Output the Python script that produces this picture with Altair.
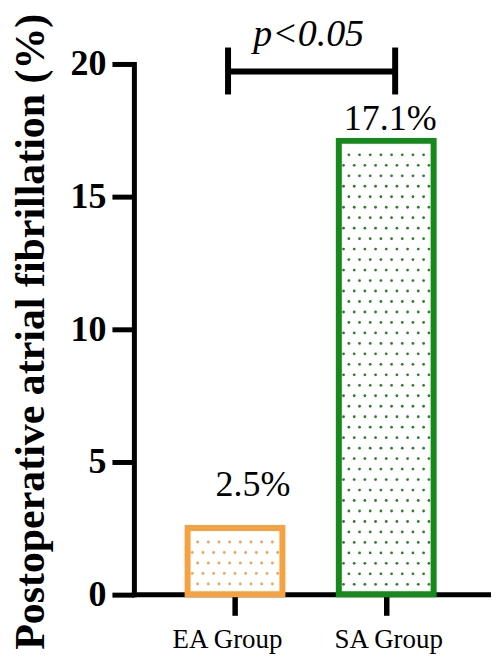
import altair as alt
import pandas as pd

# ---- data ----
groups = ["EA Group", "SA Group"]
positions = [1, 2]
values = [2.5, 17.1]
labels = ["2.5%", "17.1%"]
stroke_colors = ["#F7A241", "#15891A"]
dot_colors = ["#F2A24E", "#2E7F2E"]

bracket_x = [0.954, 2.059]
bracket_y = [19.72]
bracket_ends = [18.85, 20.62]
p_text = ["p<0.05"]
p_y = [20.69]

y_ticks = [0, 5, 10, 15, 20]

FONT = "Liberation Serif"
HALF = 0.3135          # half bar width in x units
DX = 0.0706            # dot spacing (x units)
DY = 0.395             # dot spacing (y units)

bars = pd.DataFrame({"group": groups, "pos": positions, "value": values, "label": labels})
bars["x0"] = bars["pos"] - HALF
bars["x1"] = bars["pos"] + HALF

# decorative dot pattern inside each bar
rows = []
for g, p, v in zip(groups, positions, values):
    yy = v - 0.527
    r = 0
    while yy > 0.3:
        ks = [k - 3.5 for k in range(8)] if r % 2 == 0 else [k - 4 for k in range(9)]
        for k in ks:
            rows.append({"group": g, "x": p + k * DX, "y": yy})
        yy -= DY
        r += 1
dots = pd.DataFrame(rows)

br_h = pd.DataFrame({"x": [bracket_x[0]], "x2": [bracket_x[1]], "y": bracket_y})
br_v = pd.DataFrame({"x": bracket_x, "y": [bracket_ends[0]] * 2, "y2": [bracket_ends[1]] * 2})
ptxt = pd.DataFrame({"x": [(bracket_x[0] + bracket_x[1]) / 2], "y": p_y, "t": p_text})

xscale = alt.Scale(domain=[0.3314, 2.673], nice=False, zero=False)
yscale = alt.Scale(domain=[0, 20], nice=False, zero=True)

label_expr = "datum.value == 1 ? '%s' : '%s'" % (groups[0], groups[1])

x_axis = alt.Axis(
    values=positions, labelExpr=label_expr, title=None,
    tickSize=21, tickWidth=5.5, domainWidth=5, domainCap="square",
    labelFontSize=27, labelFont=FONT, labelFontWeight="normal",
    labelPadding=11, labelColor="black", grid=False,
    labelOffset={"condition": {"test": "datum.value == 1", "value": -8}, "value": 2},
)
y_axis = alt.Axis(
    values=y_ticks, title="Postoperative atrial fibrillation (%)",
    tickSize=22, tickWidth=5, domainWidth=5, domainCap="square",
    labelFontSize=36, labelFont=FONT, labelFontWeight="bold", labelPadding=6,
    labelColor="black", grid=False,
    titleFont=FONT, titleFontSize=42, titleFontWeight="bold", titleColor="black",
    titleAngle=-90, titleX=-104, titleY=268, titleAlign="center", titleBaseline="middle",
)

color_scale = alt.Scale(domain=groups, range=stroke_colors)
dot_scale = alt.Scale(domain=groups, range=dot_colors)

bar_layer = alt.Chart(bars).mark_rect(fill="white", strokeWidth=6).encode(
    x=alt.X("x0:Q", scale=xscale, axis=x_axis),
    x2="x1:Q",
    y=alt.Y("value:Q", scale=yscale, axis=y_axis),
    y2=alt.datum(0),
    stroke=alt.Stroke("group:N", scale=color_scale, legend=None),
)

dot_layer = alt.Chart(dots).mark_point(filled=True, size=8, shape="circle", opacity=1).encode(
    x=alt.X("x:Q", scale=xscale),
    y=alt.Y("y:Q", scale=yscale),
    color=alt.Color("group:N", scale=dot_scale, legend=None),
)

lab_ea = alt.Chart(bars).transform_filter(alt.datum.pos == 1).mark_text(
    font=FONT, fontSize=36, color="black", baseline="alphabetic", dx=18, dy=-32
).encode(x=alt.X("pos:Q", scale=xscale), y=alt.Y("value:Q", scale=yscale), text="label:N")

lab_sa = alt.Chart(bars).transform_filter(alt.datum.pos == 2).mark_text(
    font=FONT, fontSize=36, color="black", baseline="alphabetic", dx=4, dy=-11
).encode(x=alt.X("pos:Q", scale=xscale), y=alt.Y("value:Q", scale=yscale), text="label:N")

h_rule = alt.Chart(br_h).mark_rule(strokeWidth=6, color="black").encode(
    x=alt.X("x:Q", scale=xscale), x2="x2:Q", y=alt.Y("y:Q", scale=yscale)
)
v_rule = alt.Chart(br_v).mark_rule(strokeWidth=6, color="black").encode(
    x=alt.X("x:Q", scale=xscale), y=alt.Y("y:Q", scale=yscale), y2="y2:Q"
)
p_layer = alt.Chart(ptxt).mark_text(
    font=FONT, fontSize=38, fontStyle="italic", color="black", baseline="alphabetic", dx=-3
).encode(x=alt.X("x:Q", scale=xscale), y=alt.Y("y:Q", scale=yscale), text="t:N")

chart = alt.layer(bar_layer, dot_layer, lab_ea, lab_sa, h_rule, v_rule, p_layer).properties(
    width=355, height=531.7,
    autosize=alt.AutoSizeParams(type="none"),
    padding={"left": 126.2, "top": 55.3, "right": 4, "bottom": 60},
    background="white",
).configure_view(stroke=None).configure_axis(domainColor="black", tickColor="black")

chart.save("out.html", embed_options={"renderer": "svg", "actions": False})
